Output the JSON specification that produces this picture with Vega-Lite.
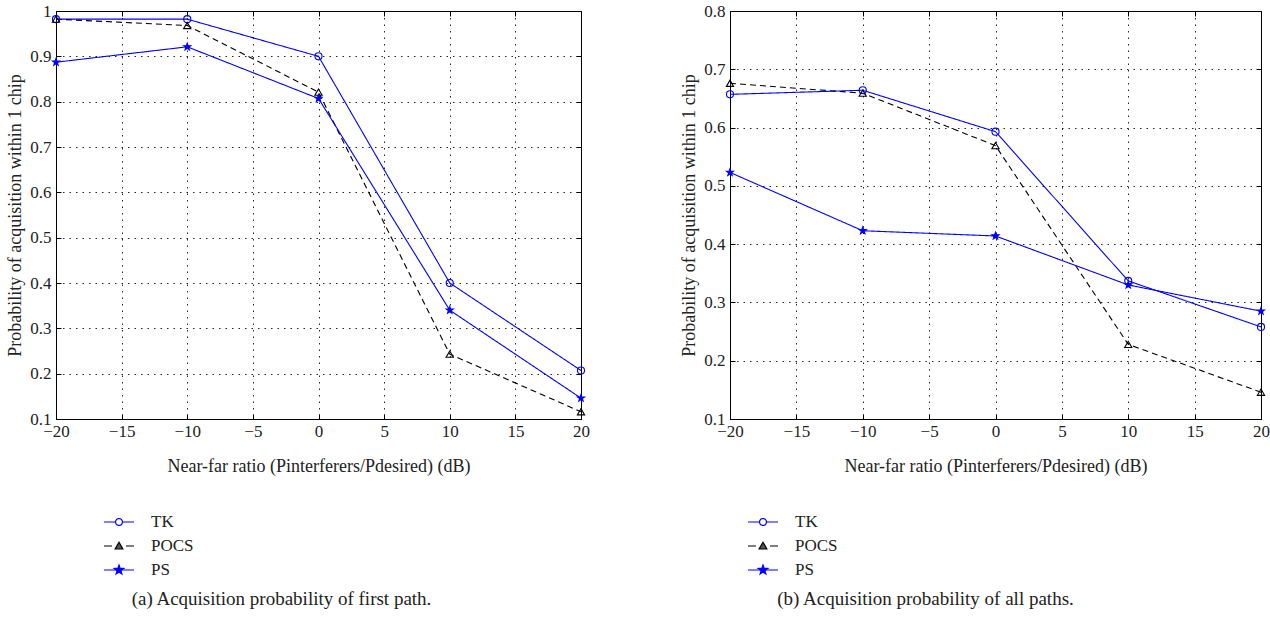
{
  "$schema": "https://vega.github.io/schema/vega-lite/v6.json",
  "background": "white",
  "padding": {"left": 6, "top": 1, "right": 5, "bottom": 5},
  "config": {
    "font": "Liberation Serif",
    "view": {"stroke": "black", "strokeWidth": 1},
    "axis": {
      "labelFont": "Liberation Serif", "labelFontSize": 17, "labelColor": "#222",
      "titleFont": "Liberation Serif", "titleFontSize": 18, "titleFontWeight": "normal", "titleColor": "#222",
      "ticks": true, "tickSize": -5, "tickColor": "#000", "tickWidth": 1, "domain": false,
      "grid": true, "gridColor": "#000", "gridDash": [1.5, 5], "gridOpacity": 0.85, "gridWidth": 1
    },
    "axisX": {"labelPadding": 9, "titlePadding": 18, "labelFlush": false},
    "axisY": {"labelPadding": 10, "titlePadding": 5},
    "title": {"font": "Liberation Serif", "fontSize": 19, "fontWeight": "normal", "color": "#222"},
    "legend": {"labelFont": "Liberation Serif", "labelFontSize": 17, "labelColor": "#222"}
  },
  "datasets": {
    "a": [
      {"x": -20, "p": 0.982, "s": "TK"}, {"x": -10, "p": 0.982, "s": "TK"}, {"x": 0, "p": 0.900, "s": "TK"}, {"x": 10, "p": 0.400, "s": "TK"}, {"x": 20, "p": 0.207, "s": "TK"},
      {"x": -20, "p": 0.982, "s": "POCS"}, {"x": -10, "p": 0.968, "s": "POCS"}, {"x": 0, "p": 0.821, "s": "POCS"}, {"x": 10, "p": 0.243, "s": "POCS"}, {"x": 20, "p": 0.116, "s": "POCS"},
      {"x": -20, "p": 0.887, "s": "PS"}, {"x": -10, "p": 0.921, "s": "PS"}, {"x": 0, "p": 0.807, "s": "PS"}, {"x": 10, "p": 0.340, "s": "PS"}, {"x": 20, "p": 0.146, "s": "PS"}
    ],
    "b": [
      {"x": -20, "p": 0.657, "s": "TK"}, {"x": -10, "p": 0.664, "s": "TK"}, {"x": 0, "p": 0.593, "s": "TK"}, {"x": 10, "p": 0.337, "s": "TK"}, {"x": 20, "p": 0.258, "s": "TK"},
      {"x": -20, "p": 0.676, "s": "POCS"}, {"x": -10, "p": 0.659, "s": "POCS"}, {"x": 0, "p": 0.569, "s": "POCS"}, {"x": 10, "p": 0.228, "s": "POCS"}, {"x": 20, "p": 0.146, "s": "POCS"},
      {"x": -20, "p": 0.523, "s": "PS"}, {"x": -10, "p": 0.423, "s": "PS"}, {"x": 0, "p": 0.414, "s": "PS"}, {"x": 10, "p": 0.330, "s": "PS"}, {"x": 20, "p": 0.285, "s": "PS"}
    ]
  },
  "spacing": 90,
  "hconcat": [
    {
      "width": 525, "height": 408,
      "data": {"name": "a"},
      "title": {"text": "(a) Acquisition probability of first path.", "orient": "bottom", "frame": "group", "offset": 12, "dx": -37},
      "layer": [
        {
          "mark": {"type": "line", "strokeWidth": 1.1},
          "encoding": {
            "x": {"field": "x", "type": "quantitative", "scale": {"domain": [-20, 20], "nice": false, "zero": false},
                  "axis": {"values": [-20, -15, -10, -5, 0, 5, 10, 15, 20], "title": "Near-far ratio (Pinterferers/Pdesired) (dB)"}},
            "y": {"field": "p", "type": "quantitative", "scale": {"domain": [0.1, 1], "nice": false, "zero": false},
                  "axis": {"values": [0.1, 0.2, 0.3, 0.4, 0.5, 0.6, 0.7, 0.8, 0.9, 1], "format": ".1~f", "title": "Probability of acquisition within 1 chip"}},
            "color": {"field": "s", "type": "nominal", "scale": {"domain": ["TK", "POCS", "PS"], "range": ["#0000ff", "#000000", "#0000ff"]},
              "legend": {"orient": "none", "legendX": 47, "legendY": 495, "title": null, "rowPadding": 0, "symbolType": "stroke", "symbolSize": 900, "symbolOffset": 0, "labelOffset": 16, "symbolStrokeWidth": 1.2,
                "encode": {"symbols": {"update": {"strokeDash": {"signal": "datum.value === 'POCS' ? [8, 14] : [1, 0]"}}}}}},
            "strokeDash": {"field": "s", "type": "nominal", "scale": {"domain": ["TK", "POCS", "PS"], "range": [[1, 0], [6, 4], [1, 0]]}, "legend": null}
          }
        },
        {
          "mark": {"type": "point", "strokeWidth": 1.1, "opacity": 1},
          "encoding": {
            "x": {"field": "x", "type": "quantitative", "axis": {"orient": "top", "values": [-20, -15, -10, -5, 0, 5, 10, 15, 20], "labels": false, "grid": false, "title": null}},
            "y": {"field": "p", "type": "quantitative", "axis": {"orient": "right", "values": [0.1, 0.2, 0.3, 0.4, 0.5, 0.6, 0.7, 0.8, 0.9, 1], "labels": false, "grid": false, "title": null}},
            "color": {"field": "s", "type": "nominal", "scale": {"domain": ["TK", "POCS", "PS"], "range": ["#0000ff", "#000000", "#0000ff"]}, "legend": null},
            "fill": {"field": "s", "type": "nominal", "scale": {"domain": ["TK", "POCS", "PS"], "range": ["transparent", "transparent", "#0000ff"]}, "legend": null},
            "shape": {"field": "s", "type": "nominal", "scale": {"domain": ["TK", "POCS", "PS"], "range": ["circle", "triangle-up", "M0,-1L0.235,-0.324L0.951,-0.309L0.380,0.124L0.588,0.809L0,0.4L-0.588,0.809L-0.380,0.124L-0.951,-0.309L-0.235,-0.324Z"]}, "legend": null},
            "size": {"field": "s", "type": "nominal", "scale": {"domain": ["TK", "POCS", "PS"], "range": [50, 55, 90]}, "legend": null}
          }
        },
        {
          "transform": [{"filter": "false"}],
          "mark": {"type": "line", "strokeWidth": 1.2},
          "encoding": {
            "x": {"field": "x", "type": "quantitative", "axis": null},
            "y": {"field": "p", "type": "quantitative", "axis": null},
            "color": {"field": "s", "type": "nominal", "scale": {"domain": ["TK", "POCS", "PS"], "range": ["#0000ff", "#000000", "#0000ff"]},
              "legend": {"orient": "none", "legendX": 47, "legendY": 495, "title": null, "rowPadding": 0, "symbolSize": 900, "symbolOffset": 0, "labelOffset": 16, "symbolStrokeWidth": 1.2, "labelOpacity": 0,
                "encode": {"symbols": {"update": {
                  "shape": {"signal": "datum.value === 'TK' ? 'M-0.23,0A0.23,0.23 0 1,1 0.23,0A0.23,0.23 0 1,1 -0.23,0Z' : datum.value === 'POCS' ? 'M-0.26,0.2L0,-0.25L0.26,0.2Z' : 'M0,-0.33L0.078,-0.107L0.314,-0.102L0.125,0.041L0.194,0.267L0,0.132L-0.194,0.267L-0.125,0.041L-0.314,-0.102L-0.078,-0.107Z'"},
                  "fill": {"signal": "datum.value === 'PS' ? '#0000ff' : datum.value === 'POCS' ? '#555555' : 'white'"},
                  "stroke": {"signal": "datum.value === 'POCS' ? '#000000' : '#0000ff'"},
                  "strokeDash": {"signal": "[1, 0]"},
                  "opacity": {"value": 1}
                }}}}}
          }
        }
      ],
      "resolve": {"scale": {"shape": "independent", "fill": "independent", "color": "independent"}, "legend": {"color": "independent"}, "axis": {"x": "independent", "y": "independent"}}
    },
    {
      "width": 531, "height": 408,
      "data": {"name": "b"},
      "title": {"text": "(b) Acquisition probability of all paths.", "orient": "bottom", "frame": "group", "offset": 12, "dx": -70},
      "layer": [
        {
          "mark": {"type": "line", "strokeWidth": 1.1},
          "encoding": {
            "x": {"field": "x", "type": "quantitative", "scale": {"domain": [-20, 20], "nice": false, "zero": false},
                  "axis": {"values": [-20, -15, -10, -5, 0, 5, 10, 15, 20], "title": "Near-far ratio (Pinterferers/Pdesired) (dB)"}},
            "y": {"field": "p", "type": "quantitative", "scale": {"domain": [0.1, 0.8], "nice": false, "zero": false},
                  "axis": {"values": [0.1, 0.2, 0.3, 0.4, 0.5, 0.6, 0.7, 0.8], "format": ".1~f", "title": "Probability of acquisition within 1 chip"}},
            "color": {"field": "s", "type": "nominal", "scale": {"domain": ["TK", "POCS", "PS"], "range": ["#0000ff", "#000000", "#0000ff"]},
              "legend": {"orient": "none", "legendX": 17, "legendY": 495, "title": null, "rowPadding": 0, "symbolType": "stroke", "symbolSize": 900, "symbolOffset": 0, "labelOffset": 16, "symbolStrokeWidth": 1.2,
                "encode": {"symbols": {"update": {"strokeDash": {"signal": "datum.value === 'POCS' ? [8, 14] : [1, 0]"}}}}}},
            "strokeDash": {"field": "s", "type": "nominal", "scale": {"domain": ["TK", "POCS", "PS"], "range": [[1, 0], [6, 4], [1, 0]]}, "legend": null}
          }
        },
        {
          "mark": {"type": "point", "strokeWidth": 1.1, "opacity": 1},
          "encoding": {
            "x": {"field": "x", "type": "quantitative", "axis": {"orient": "top", "values": [-20, -15, -10, -5, 0, 5, 10, 15, 20], "labels": false, "grid": false, "title": null}},
            "y": {"field": "p", "type": "quantitative", "axis": {"orient": "right", "values": [0.1, 0.2, 0.3, 0.4, 0.5, 0.6, 0.7, 0.8], "labels": false, "grid": false, "title": null}},
            "color": {"field": "s", "type": "nominal", "scale": {"domain": ["TK", "POCS", "PS"], "range": ["#0000ff", "#000000", "#0000ff"]}, "legend": null},
            "fill": {"field": "s", "type": "nominal", "scale": {"domain": ["TK", "POCS", "PS"], "range": ["transparent", "transparent", "#0000ff"]}, "legend": null},
            "shape": {"field": "s", "type": "nominal", "scale": {"domain": ["TK", "POCS", "PS"], "range": ["circle", "triangle-up", "M0,-1L0.235,-0.324L0.951,-0.309L0.380,0.124L0.588,0.809L0,0.4L-0.588,0.809L-0.380,0.124L-0.951,-0.309L-0.235,-0.324Z"]}, "legend": null},
            "size": {"field": "s", "type": "nominal", "scale": {"domain": ["TK", "POCS", "PS"], "range": [50, 55, 90]}, "legend": null}
          }
        },
        {
          "transform": [{"filter": "false"}],
          "mark": {"type": "line", "strokeWidth": 1.2},
          "encoding": {
            "x": {"field": "x", "type": "quantitative", "axis": null},
            "y": {"field": "p", "type": "quantitative", "axis": null},
            "color": {"field": "s", "type": "nominal", "scale": {"domain": ["TK", "POCS", "PS"], "range": ["#0000ff", "#000000", "#0000ff"]},
              "legend": {"orient": "none", "legendX": 17, "legendY": 495, "title": null, "rowPadding": 0, "symbolSize": 900, "symbolOffset": 0, "labelOffset": 16, "symbolStrokeWidth": 1.2, "labelOpacity": 0,
                "encode": {"symbols": {"update": {
                  "shape": {"signal": "datum.value === 'TK' ? 'M-0.23,0A0.23,0.23 0 1,1 0.23,0A0.23,0.23 0 1,1 -0.23,0Z' : datum.value === 'POCS' ? 'M-0.26,0.2L0,-0.25L0.26,0.2Z' : 'M0,-0.33L0.078,-0.107L0.314,-0.102L0.125,0.041L0.194,0.267L0,0.132L-0.194,0.267L-0.125,0.041L-0.314,-0.102L-0.078,-0.107Z'"},
                  "fill": {"signal": "datum.value === 'PS' ? '#0000ff' : datum.value === 'POCS' ? '#555555' : 'white'"},
                  "stroke": {"signal": "datum.value === 'POCS' ? '#000000' : '#0000ff'"},
                  "strokeDash": {"signal": "[1, 0]"},
                  "opacity": {"value": 1}
                }}}}}
          }
        }
      ],
      "resolve": {"scale": {"shape": "independent", "fill": "independent", "color": "independent"}, "legend": {"color": "independent"}, "axis": {"x": "independent", "y": "independent"}}
    }
  ],
  "resolve": {"scale": {"color": "independent", "strokeDash": "independent", "fill": "independent", "shape": "independent", "size": "independent", "x": "independent", "y": "independent"}}
}
